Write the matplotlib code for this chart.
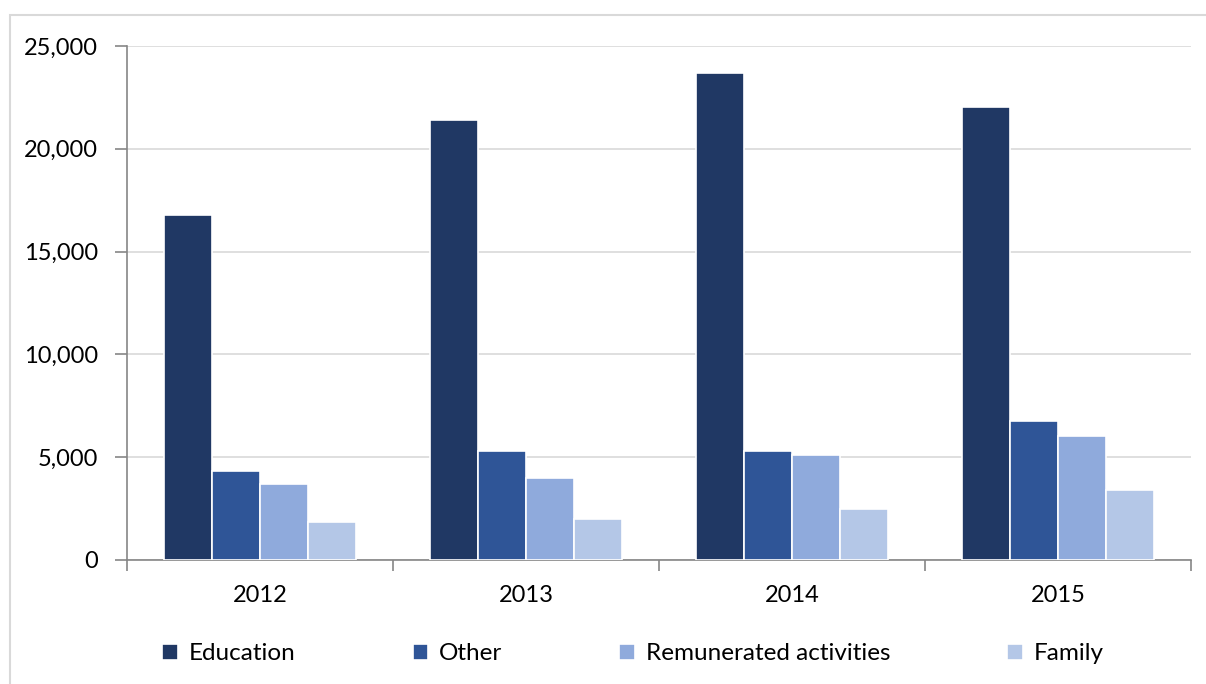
import matplotlib.pyplot as plt
import matplotlib.patches as mpatches
import numpy as np
from matplotlib.ticker import FuncFormatter

years = ['2012', '2013', '2014', '2015']
series = ['Education', 'Other', 'Remunerated activities', 'Family']
education = [16800, 21380, 23700, 22050]
other = [4320, 5280, 5280, 6780]
remunerated = [3680, 3970, 5100, 6030]
family = [1830, 1990, 2480, 3400]
colors = ['#203864', '#2F5597', '#8FAADC', '#B4C7E7']

plt.rcParams['font.family'] = ['Lato', 'DejaVu Sans']

fig = plt.figure(figsize=(12.06, 6.84), dpi=100)
ax = fig.add_axes([127/1206, 124/684, 1064/1206, 514/684])

# light frame around the chart
fig.patches.append(mpatches.Rectangle((10/1206, -0.1), 1.2, 1.1 - 15/684,
                                      transform=fig.transFigure, fill=False,
                                      edgecolor='#D9D9D9', linewidth=1.5))

x = np.arange(len(years))
w = 0.18
data = [education, other, remunerated, family]
for i, (vals, name) in enumerate(zip(data, series)):
    ax.bar(x + (i - 1.5) * w, vals, width=w, color=colors[i], edgecolor='white',
           linewidth=1.2, label=name, zorder=3)

ax.set_xlim(-0.5, 3.5)
ax.set_ylim(0, 25000)
ax.set_yticks(range(0, 25001, 5000))
ax.yaxis.set_major_formatter(FuncFormatter(lambda v, p: f'{int(v):,}'))
ax.grid(axis='y', color='#D9D9D9', linewidth=1.2, zorder=0)

ax.set_xticks(np.arange(-0.5, 4, 1))
ax.set_xticklabels([])
ax.set_xticks(x, minor=True)
ax.set_xticklabels(years, minor=True)
ax.tick_params(axis='x', which='major', length=8, color='#868686', width=1.2)
ax.tick_params(axis='x', which='minor', length=0, pad=18, labelsize=17)
ax.tick_params(axis='y', length=9, color='#868686', width=1.2, pad=12, labelsize=17)

for s in ['top', 'right']:
    ax.spines[s].set_visible(False)
for s in ['left', 'bottom']:
    ax.spines[s].set_color('#868686')
    ax.spines[s].set_linewidth(1.2)

fig.legend(loc='center', bbox_to_anchor=(0.525, 1 - 654/684), ncol=4, frameon=False,
           fontsize=17.5, handlelength=0.65, handleheight=0.65, handletextpad=0.45,
           columnspacing=4.8)

fig.savefig('out.png', dpi=100)
